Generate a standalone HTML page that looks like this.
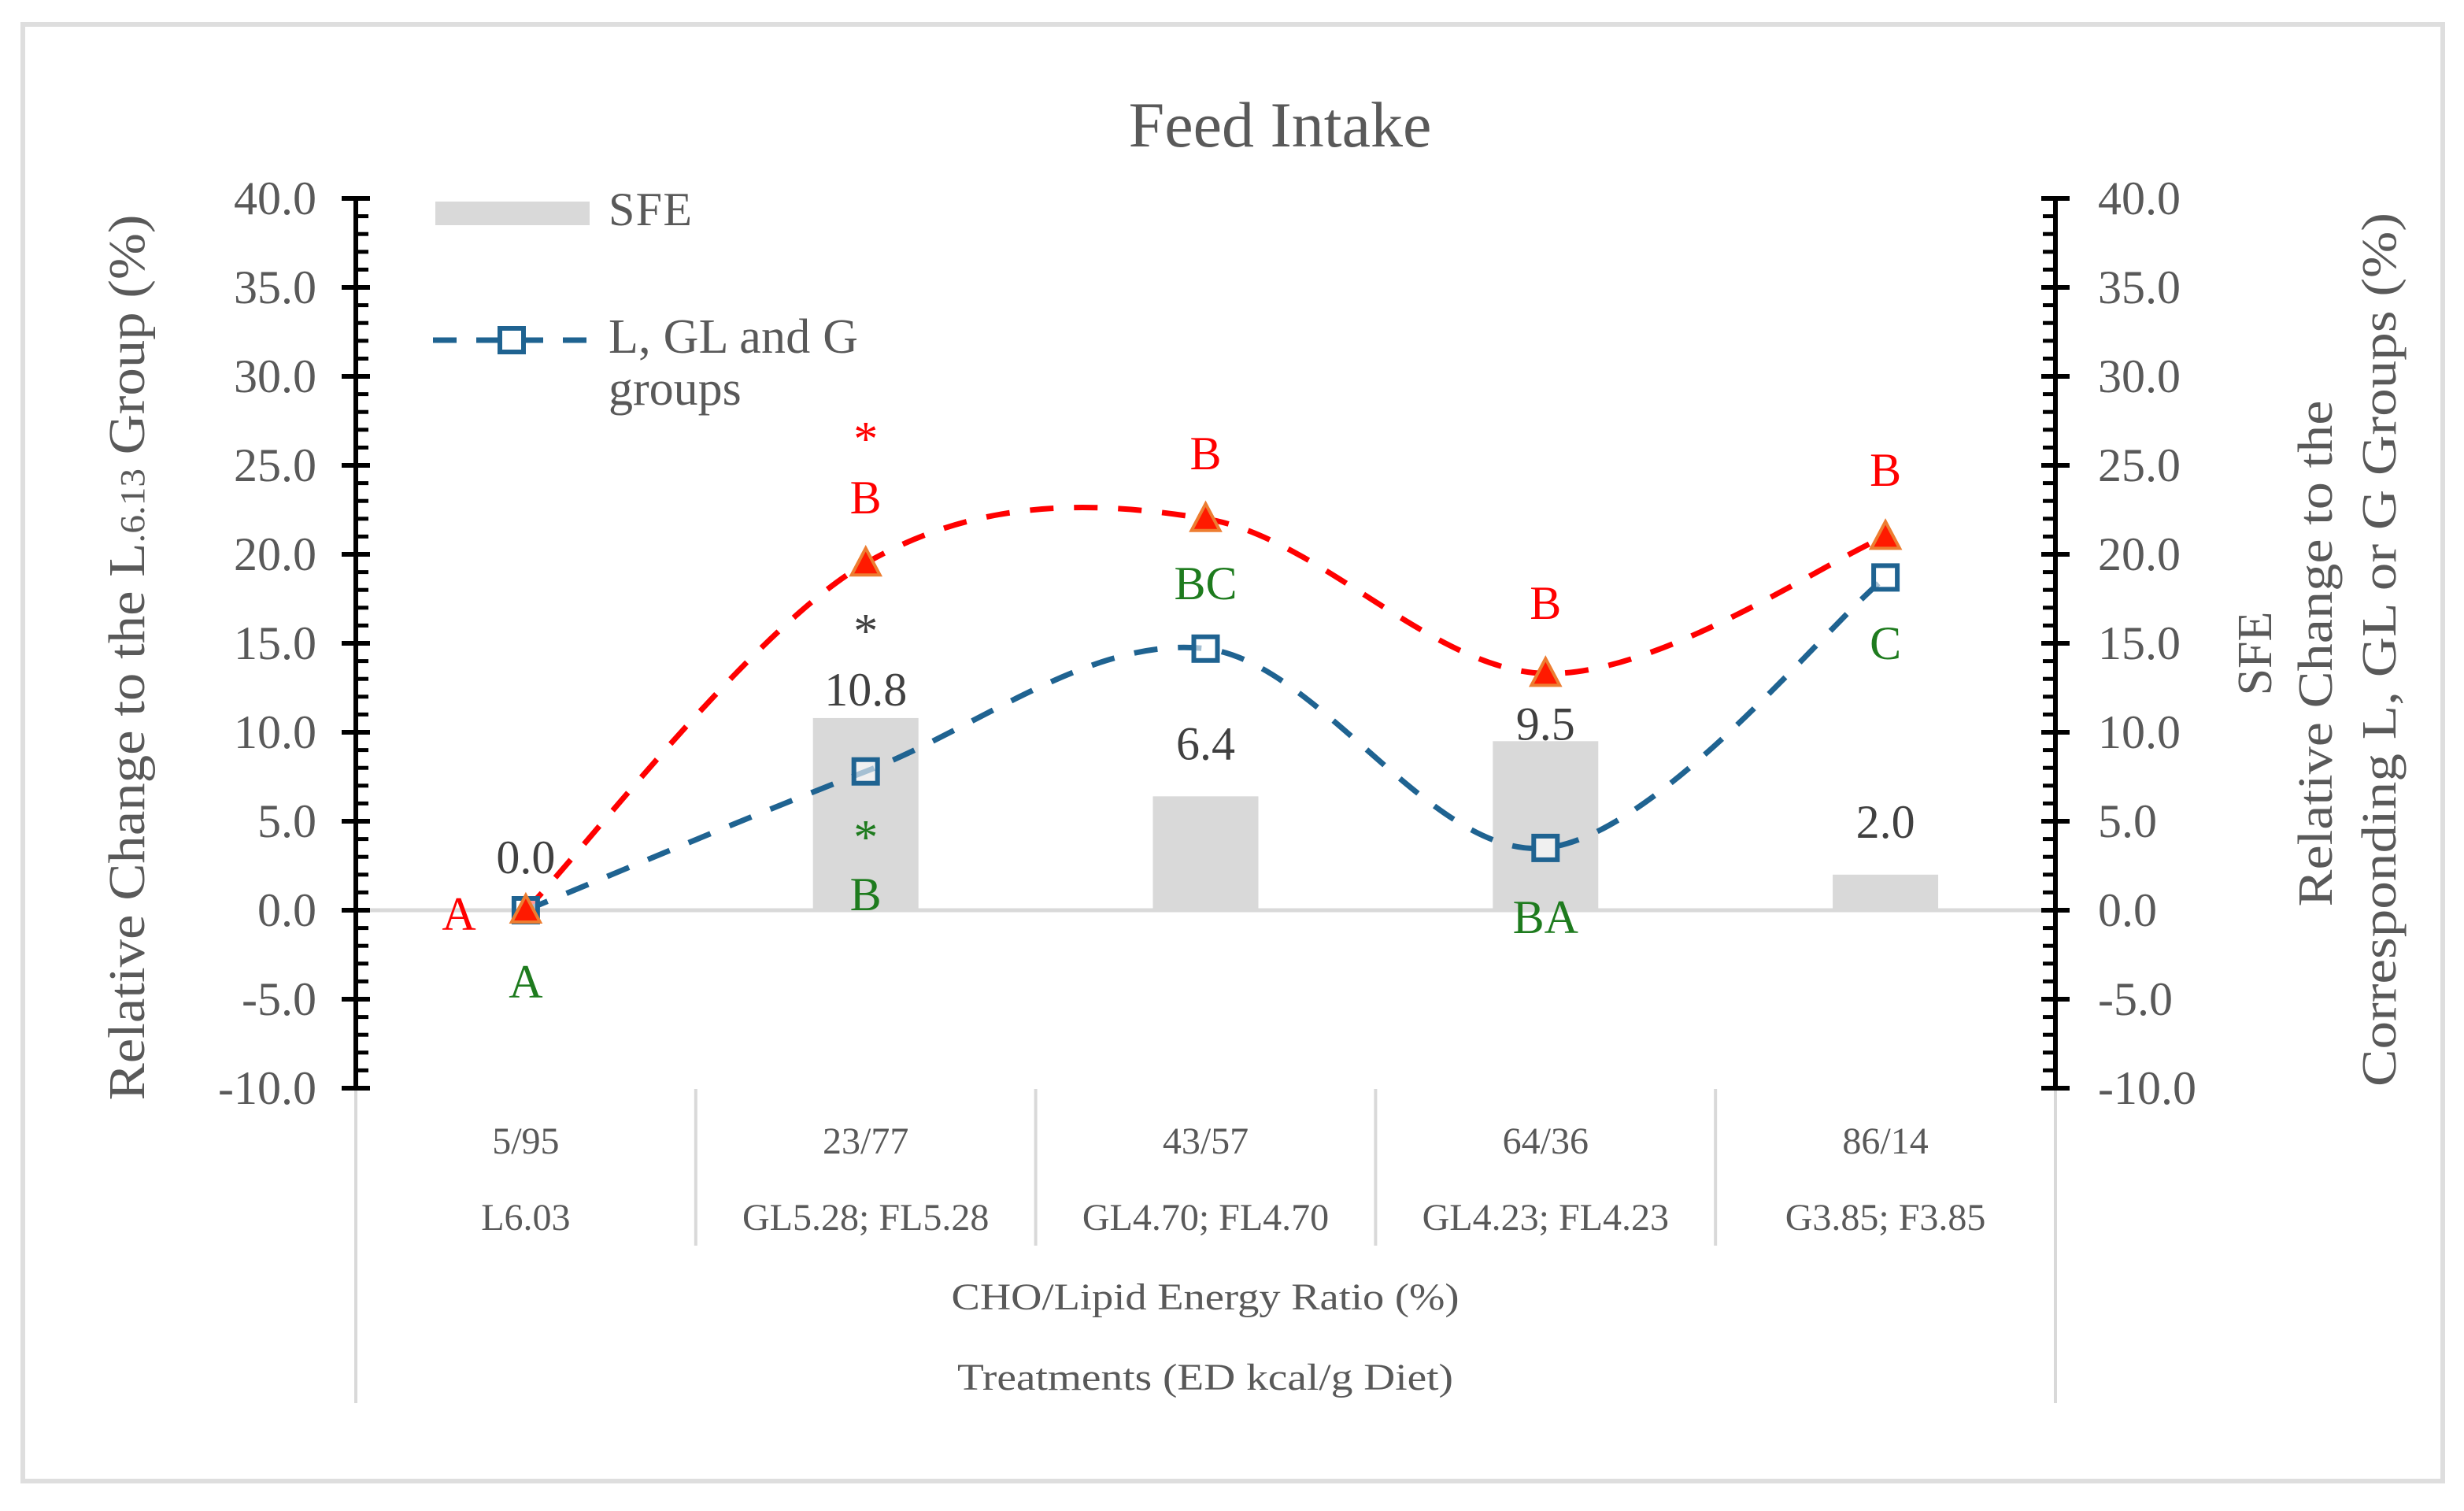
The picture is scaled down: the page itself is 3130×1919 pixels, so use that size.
<!DOCTYPE html>
<html><head><meta charset="utf-8"><style>
html,body{margin:0;padding:0;background:#fff;}
svg{display:block;font-family:"Liberation Serif",serif;}
</style></head><body>
<svg id="chart" width="3130" height="1919" viewBox="0 0 3130 1919" xmlns="http://www.w3.org/2000/svg">
<rect x="29" y="31" width="3074" height="1850" fill="#fff" stroke="#dedede" stroke-width="6"/>
<text x="1626" y="186" text-anchor="middle" font-size="82" fill="#595959">Feed Intake</text>
<g id="grid"></g>
<g id="bars"></g>
<g id="lines"></g>
<g id="axes"></g>
<g id="ann"></g>
<g>
  <rect x="553" y="256" width="196" height="30" fill="#d9d9d9"/>
  <text x="773" y="286" font-size="60" fill="#595959" textLength="106">SFE</text>
  <line x1="550" y1="432" x2="745" y2="432" stroke="#1f6391" stroke-width="7" stroke-dasharray="30 25"/>
  <rect x="635" y="417" width="30" height="30" fill="#fff" stroke="#1f6391" stroke-width="6"/>
  <text x="773" y="448" font-size="62" fill="#595959" textLength="317">L, GL and G</text>
  <text x="773" y="514" font-size="62" fill="#595959">groups</text>
</g>
<text transform="translate(183,835) rotate(-90)" text-anchor="middle" font-size="66" fill="#595959" textLength="1125" lengthAdjust="spacingAndGlyphs">Relative Change to the L<tspan font-size="44">.6.13</tspan> Group (%)</text>
<text transform="translate(2885,830) rotate(-90)" text-anchor="middle" font-size="62" fill="#595959">SFE</text>
<text transform="translate(2962,830) rotate(-90)" text-anchor="middle" font-size="62" fill="#595959" textLength="643" lengthAdjust="spacingAndGlyphs">Relative Change to the</text>
<text transform="translate(3043,825) rotate(-90)" text-anchor="middle" font-size="62" fill="#595959" textLength="1110" lengthAdjust="spacingAndGlyphs">Corresponding L, GL or G Groups (%)</text>
<text x="1531" y="1663" text-anchor="middle" font-size="48" fill="#595959" textLength="645" lengthAdjust="spacingAndGlyphs">CHO/Lipid Energy Ratio (%)</text>
<text x="1531" y="1765" text-anchor="middle" font-size="48" fill="#595959" textLength="630" lengthAdjust="spacingAndGlyphs">Treatments (ED kcal/g Diet)</text>
</svg>
<script>
const categories = ["5/95","23/77","43/57","64/36","86/14"];
const treatments = ["L6.03","GL5.28; FL5.28","GL4.70; FL4.70","GL4.23; FL4.23","G3.85; F3.85"];
const sfeValues = [0.0, 10.8, 6.4, 9.5, 2.0];
const redValues = [0.0, 19.5, 22.0, 13.3, 21.0];
const blueValues = [0.0, 7.8, 14.7, 3.5, 18.7];
const yTicks = [-10,-5,0,5,10,15,20,25,30,35,40];
const redLetters = ["A","B","B","B","B"];
const greenLetters = ["A","B","BC","BA","C"];

const NS = "http://www.w3.org/2000/svg";
const X0 = 452, X1 = 2611, Y0 = 1156, PPU = 22.6;
const labelGap = [47, 16, 47, 2, 47];
const band = (X1 - X0) / categories.length;
function xc(i){ return X0 + band * (i + 0.5); }
function yv(v){ return Y0 - v * PPU; }
function mk(tag, attrs, parent){ const e = document.createElementNS(NS, tag); for (const k in attrs) e.setAttribute(k, attrs[k]); parent.appendChild(e); return e; }
const grid = document.getElementById('grid'), bars = document.getElementById('bars'), lines = document.getElementById('lines'), axes = document.getElementById('axes'), ann = document.getElementById('ann');

for (let i = 0; i <= categories.length; i++) {
  const x = X0 + band * i;
  const outer = (i === 0 || i === categories.length);
  const d = mk('line', {x1:x, y1:1383, x2:x, y2: outer ? 1782 : 1582, stroke:'#d9d9d9', 'stroke-width':4}, grid);
  
  
}
categories.forEach((c, i) => {
  const t = mk('text', {x:xc(i), y:1465, 'text-anchor':'middle', 'font-size':48, fill:'#595959'}, axes);
  t.textContent = c;
  
  
  const t2 = mk('text', {x:xc(i), y:1562, 'text-anchor':'middle', 'font-size':48, fill:'#595959'}, axes);
  t2.textContent = treatments[i];
  
  
});

sfeValues.forEach((v, i) => {
  const h = Math.abs(v) * PPU;
  const r = mk('rect', {x:xc(i) - 67, y: v >= 0 ? yv(v) : Y0, width:134, height:h, fill:'#d9d9d9'}, bars);
  
  
  const t = mk('text', {x:xc(i), y:yv(v) - labelGap[i], 'text-anchor':'middle', 'font-size':60, fill:'#404040'}, ann);
  t.textContent = v.toFixed(1);
  
  
});
const zl = mk('line', {x1:X0, y1:Y0, x2:X1, y2:Y0, stroke:'#d9d9d9', 'stroke-width':5}, bars);



function smoothPath(vals){
  const p = vals.map((v, i) => [xc(i), yv(v)]);
  let d = `M${p[0][0]},${p[0][1]}`;
  for (let i = 0; i < p.length - 1; i++) {
    const p0 = p[i-1] || p[i], p1 = p[i], p2 = p[i+1], p3 = p[i+2] || p2;
    const t = 1/6;
    const c1 = [p1[0] + (p2[0]-p0[0])*t, p1[1] + (p2[1]-p0[1])*t];
    const c2 = [p2[0] - (p3[0]-p1[0])*t, p2[1] - (p3[1]-p1[1])*t];
    d += ` C${c1[0]},${c1[1]} ${c2[0]},${c2[1]} ${p2[0]},${p2[1]}`;
  }
  return d;
}
const rl = mk('path', {d:smoothPath(redValues), fill:'none', stroke:'#ff0000', 'stroke-width':7, 'stroke-dasharray':'30 26'}, lines);


const bl = mk('path', {d:smoothPath(blueValues), fill:'none', stroke:'#1f6391', 'stroke-width':7, 'stroke-dasharray':'30 26'}, lines);


blueValues.forEach((v, i) => {
  const s = mk('rect', {x:xc(i)-15, y:yv(v)-15, width:30, height:30, fill:'#fff', 'fill-opacity':0.6, stroke:'#1f6391', 'stroke-width':6}, lines);
  
  
});
redValues.forEach((v, i) => {
  const x = xc(i), y = yv(v);
  const tr = mk('polygon', {points:`${x},${y-19} ${x+18},${y+15} ${x-18},${y+15}`, fill:'#ff1a00', stroke:'#ed7d31', 'stroke-width':4}, lines);
  
  
});

[X0, X1].forEach((ax, k) => {
  const a = mk('line', {x1:ax, y1:yv(40), x2:ax, y2:yv(-10), stroke:'#000', 'stroke-width':6}, axes);
  
  
  for (let v = -10; v <= 40; v++) {
    const major = v % 5 === 0;
    const x1 = major ? ax - 18 : (k ? ax - 16 : ax);
    const x2 = major ? ax + 18 : (k ? ax : ax + 16);
    const tk = mk('line', {x1:x1, y1:yv(v), x2:x2, y2:yv(v), stroke:'#000', 'stroke-width':major ? 6 : 5}, axes);
    
    
  }
});
yTicks.forEach(v => {
  const l = mk('text', {x:402, y:yv(v) + 20, 'text-anchor':'end', 'font-size':60, fill:'#595959'}, axes);
  l.textContent = v.toFixed(1);
  
  
  const r = mk('text', {x:2665, y:yv(v) + 20, 'text-anchor':'start', 'font-size':60, fill:'#595959'}, axes);
  r.textContent = v.toFixed(1);
  
  
});

function label(txt, x, y, color, name, size){
  const t = mk('text', {x:x, y:y, 'text-anchor':'middle', 'font-size':size || 60, fill:color}, ann);
  t.textContent = txt;
  
  
}
const redY = [1181, 652, 596, 786, 617];
const greenY = [1267, 1156, 761, 1185, 837];
redLetters.forEach((s, i) => label(s, i === 0 ? 583 : xc(i), redY[i], '#ff0000', 'red-significance-letter'));
greenLetters.forEach((s, i) => label(s, xc(i), greenY[i], '#1e7b1e', 'green-significance-letter'));
label('*', xc(1), 578, '#ff0000', 'red-asterisk', 62);
label('*', xc(1), 822, '#404040', 'black-asterisk', 62);
label('*', xc(1), 1084, '#1e7b1e', 'green-asterisk', 62);
</script>
</body></html>
